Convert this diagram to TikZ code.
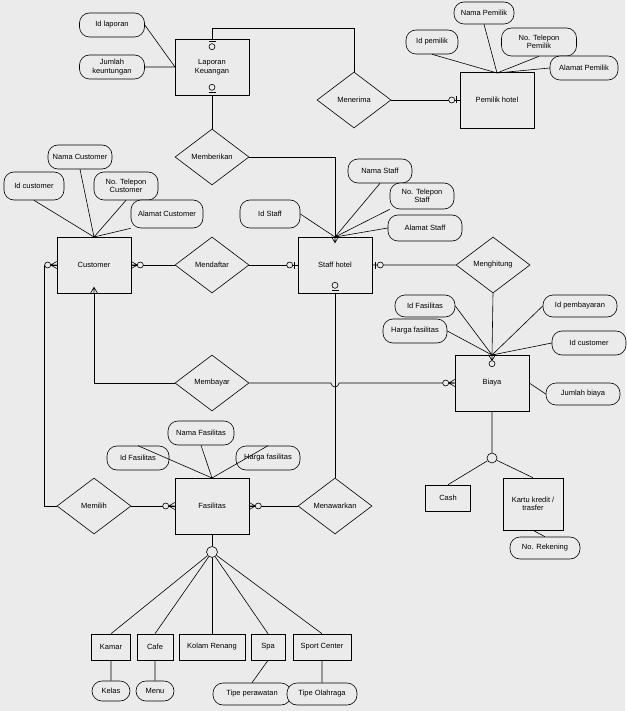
\documentclass[tikz,border=0pt]{standalone}
\usepackage{fontspec}
\setmainfont{Liberation Sans}
\usetikzlibrary{shapes.geometric}
\definecolor{bg}{HTML}{EBEBEB}
\begin{document}
\begin{tikzpicture}[x=1pt,y=-1pt,font=\fontsize{7.5}{8.5}\selectfont,line width=0.6pt,
 ent/.style={draw,fill=bg,minimum width=74pt,minimum height=56pt,align=center,inner sep=1pt},
 sub/.style={draw,fill=bg,minimum height=26pt,inner sep=3pt,align=center},
 att/.style={draw,fill=bg,rounded corners=10pt,minimum height=24pt,inner sep=2pt,align=center},
 rel/.style={draw,fill=bg,diamond,aspect=1.33,minimum width=74pt,minimum height=56pt,inner sep=0pt},
 oc/.style={draw,fill=bg,circle,inner sep=0pt,minimum size=6pt}]
\fill[bg] (0,0) rectangle (625,711);
\newcommand{\zo}[2]{\begin{scope}[shift={#1},rotate=#2]\draw (3,-3.5)--(3,3.5); \node[oc] at (8,0){};\end{scope}}
\newcommand{\zm}[2]{\begin{scope}[shift={#1},rotate=#2]\draw (0,-3.5)--(6,0)--(0,3.5) (0,0)--(6,0); \node[oc] at (9,0){};\end{scope}}
\newcommand{\cf}[2]{\begin{scope}[shift={#1},rotate=#2]\draw (0,-3.5)--(6,0)--(0,3.5) (0,0)--(6,0);\end{scope}}
% entities
\node[ent] (lap) at (212,67) {Laporan\\Keuangan};
\node[ent] (pem) at (497,100) {Pemilik hotel};
\node[ent] (cus) at (94,265) {Customer};
\node[ent] (sta) at (335,265) {Staff hotel};
\node[ent] (bia) at (492,383) {Biaya};
\node[ent] (fas) at (212,506) {Fasilitas};
% relations
\node[rel] (men) at (354,100) {Menerima};
\node[rel] (mem) at (212,157) {Memberikan};
\node[rel] (mda) at (212,265) {Mendaftar};
\node[rel] (mgh) at (493,265) {Menghitung};
\node[rel] (mby) at (212,383) {Membayar};
\node[rel] (mpl) at (94,506) {Memilih};
\node[rel] (mnw) at (335,506) {Menawarkan};
% attributes
\node[att,minimum width=65pt] (a1) at (112,25) {Id laporan};
\node[att,minimum width=65pt] (a2) at (112,67) {Jumlah\\keuntungan};
\node[att,minimum width=52pt] (p1) at (432,42) {Id pemilik};
\node[att,minimum width=60pt,minimum height=22pt] (p2) at (484,13) {Nama Pemilik};
\node[att,minimum width=75pt,minimum height=28pt] (p3) at (539,42) {No. Telepon\\Pemilik};
\node[att,minimum width=68pt] (p4) at (584,68) {Alamat Pemilik};
\node[att,minimum width=64pt] (c1) at (80,157) {Nama Customer};
\node[att,minimum width=60pt,minimum height=28pt] (c2) at (34,186) {Id customer};
\node[att,minimum width=64pt,minimum height=28pt] (c3) at (126,186) {No. Telepon\\Customer};
\node[att,minimum width=72pt,minimum height=28pt] (c4) at (167,214) {Alamat Customer};
\node[att,minimum width=60pt,minimum height=28pt] (s1) at (270,214) {Id Staff};
\node[att,minimum width=64pt] (s2) at (380,171) {Nama Staff};
\node[att,minimum width=64pt,minimum height=26pt] (s3) at (422,196) {No. Telepon\\Staff};
\node[att,minimum width=74pt,minimum height=26pt] (s4) at (425,228) {Alamat Staff};
\node[att,minimum width=60pt,minimum height=22pt] (b1) at (425,306) {Id Fasilitas};
\node[att,minimum width=64pt] (b2) at (415,331) {Harga fasilitas};
\node[att,minimum width=74pt,minimum height=22pt] (b3) at (580,306) {Id pembayaran};
\node[att,minimum width=74pt] (b4) at (589,343) {Id customer};
\node[att,minimum width=74pt,minimum height=22pt] (b5) at (583,394) {Jumlah biaya};
\node[att,minimum width=62pt] (f1) at (138,458) {Id Fasilitas};
\node[att,minimum width=66pt] (f2) at (201,433) {Nama Fasilitas};
\node[att,minimum width=64pt] (f3) at (268,458) {Harga fasilitas};
% subtypes
\node[oc,minimum size=10pt] (cb) at (492,458) {};
\node[sub,minimum width=45pt] (cash) at (448,498) {Cash};
\node[sub,minimum width=60pt,minimum height=52pt] (kar) at (533,504) {Kartu kredit /\\trasfer};
\node[att,minimum width=70pt,minimum height=22pt] (rek) at (545,548) {No. Rekening};
\node[oc,minimum size=11pt] (cf) at (212,552) {};
\node[sub,minimum width=39pt] (kam) at (111,647) {Kamar};
\node[sub,minimum width=36pt] (caf) at (155,647) {Cafe};
\node[sub,minimum width=66pt] (kol) at (212,647) {Kolam Renang};
\node[sub,minimum width=34pt] (spa) at (268,647) {Spa};
\node[sub,minimum width=58pt] (spo) at (322,647) {Sport Center};
\node[att,minimum width=38pt,minimum height=20pt] (kel) at (111,691) {Kelas};
\node[att,minimum width=38pt,minimum height=20pt] (mnu) at (155,691) {Menu};
\node[att,minimum width=78pt,minimum height=22pt] (tpr) at (252,694) {Tipe perawatan};
\node[att,minimum width=70pt,minimum height=22pt] (tol) at (322,694) {Tipe Olahraga};
% attribute links
\begin{scope}[on background layer/.try]
\end{scope}
\coordinate (lapL) at (175,67);
\draw (a1.east)--(lapL) (a2.east)--(lapL);
\coordinate (pemT) at (497,73);
\draw (p1.south)--(pemT) (p2.south)--(pemT) (p3.south)--(pemT) (p4.west)--(pemT);
\coordinate (cusT) at (94,237);
\draw (c1.south)--(cusT) (c2.south)--(cusT) (c3.south)--(cusT) (c4.south west)--(cusT);
\coordinate (staT) at (335,237);
\draw (s1.east)--(staT) (s2.south)--(staT) (s3.south west)--(staT) (s4.west)--(staT);
\coordinate (biaT) at (492,355);
\draw (b1.east)--(biaT) (b2.east)--(biaT) (b3.west)--(biaT) (b4.west)--(biaT) (b5.west)--(bia.east);
\coordinate (fasT) at (212,478);
\draw (f1.north)--(fasT) (f2.south)--(fasT) (f3.north)--(fasT);
% relationships
\draw (lap.north)--(212,28)-|(men.north);
\draw (men.east)--(pem.west);
\draw (lap.south)--(mem.north);
\draw (mem.east)-|(sta.north);
\draw (cus.east)--(mda.west) (mda.east)--(sta.west);
\draw (sta.east)--(mgh.west) (mgh.south)--(bia.north);
\draw (cus.south)--(94,383)--(mby.west);
\draw (mby.east)--(331,383) arc[start angle=180,end angle=0,radius=4]--(bia.west);
\draw (sta.south)--(mnw.north);
\draw (cus.west)--(44,265)--(44,506)--(mpl.west);
\draw (mpl.east)--(fas.west) (fas.east)--(mnw.west);
\draw (bia.south)--(cb) (cb)--(cash.north) (cb)--(kar.north) (kar.south)--(rek.north);
\draw (fas.south)--(cf);
\foreach \n in {kam,caf,kol,spa,spo} \draw (cf)--(\n.north);
\draw (kam.south)--(kel.north) (caf.south)--(mnu.north) (spa.south)--(tpr.north) (spo.south)--(tol.north);
% cardinality marks
\zo{(lap.north)}{-90}
\zo{(lap.south)}{90}
\zo{(pem.west)}{180}
\zm{(cus.east)}{0}
\zo{(sta.west)}{180}
\zo{(sta.east)}{0}
\zm{(cus.west)}{180}
\cf{(cus.south)}{90}
\cf{(sta.north)}{-90}
\zo{(sta.south)}{90}
\zm{(bia.west)}{180}
\zm{(bia.north)}{-90}
\zm{(fas.west)}{180}
\zm{(fas.east)}{0}
\end{tikzpicture}
\end{document}
